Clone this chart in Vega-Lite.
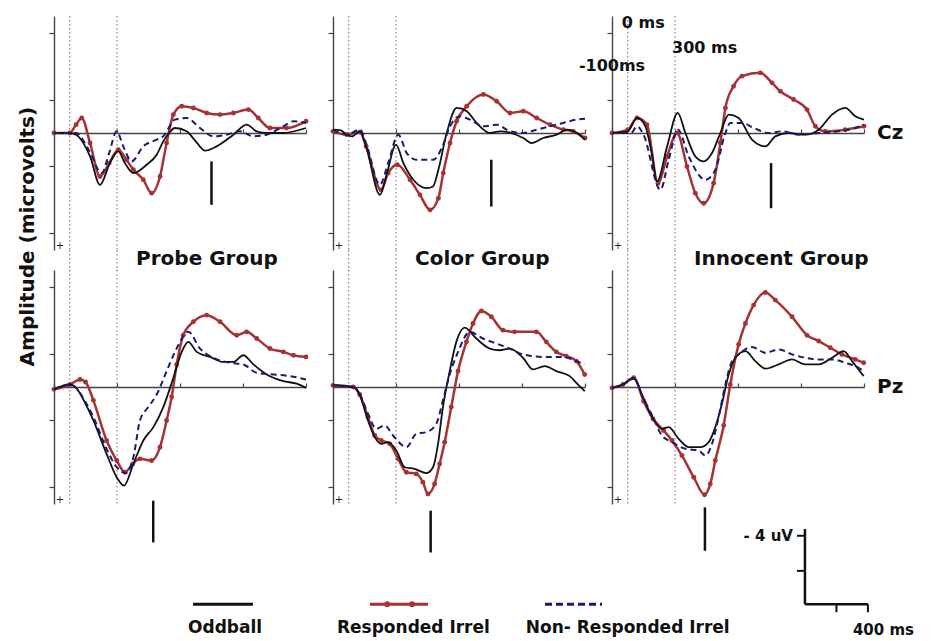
{
"$schema": "https://vega.github.io/schema/vega-lite/v6.json",
"background": "white",
"padding": {"left": 18, "top": 14, "right": 5, "bottom": 2},
"config": {
  "view": {"stroke": null},
  "font": "DejaVu Sans",
  "text": {"font": "DejaVu Sans", "fontWeight": "bold", "color": "#111111"},
  "axis": {"grid": false, "labels": false, "domainColor": "#444444", "tickColor": "#444444", "domainWidth": 1.4, "tickWidth": 1.2}
},
"data": {"values": [
    {"kind":"c","site":"Cz","group":"Probe Group","cond":"Oddball","t":[-100,0,40,129,192,255,308,350,404,488,552,594,630,668,742,800,859,933,1039,1123,1187,1250,1350,1500],"v":[0,0,0.1,1.4,3.1,1.8,1.1,1.8,2.4,1.9,1.3,0.5,0,-0.3,-0.1,0.5,1.06,0.8,0.1,-0.5,-0.1,0,0,-0.3]},
    {"kind":"c","site":"Cz","group":"Probe Group","cond":"Responded Irrel","t":[-100,0,40,76,129,192,250,308,360,404,467,520,573,615,658,711,785,869,954,1039,1134,1197,1271,1377,1500],"v":[0,0,-0.5,-0.9,0.6,2.6,1.8,1.0,1.6,2.2,2.8,3.6,2.6,0.6,-1.1,-1.6,-1.5,-1.2,-1.1,-1.2,-1.4,-0.9,-0.3,-0.3,-0.7]},
    {"kind":"c","site":"Cz","group":"Probe Group","cond":"Non-Responded Irrel","t":[-100,40,120,203,250,298,340,393,467,552,594,668,742,827,912,996,1081,1166,1250,1356,1420,1500],"v":[0,0,1.0,2.4,1.2,-0.1,0.8,1.7,0.8,0.4,0.2,-0.8,-0.9,-0.3,0.2,0.1,-0.1,0.2,0.1,-0.4,-0.7,-0.6]},
    {"kind":"c","site":"Cz","group":"Color Group","cond":"Oddball","t":[-100,-50,-13,20,71,110,198,240,300,347,410,495,535,569,622,685,749,812,897,960,1030,1108,1161,1235,1320,1384,1447,1500],"v":[-0.2,-0.15,0.1,0.2,-0.1,0.8,3.7,2.5,0.7,1.8,2.8,3.3,3.2,2.2,0,-1.5,-1.3,-0.6,0,-0.1,0,0.3,0.6,0.3,0.1,-0.2,0,0.4]},
    {"kind":"c","site":"Cz","group":"Color Group","cond":"Responded Irrel","t":[-100,-13,71,110,205,250,308,389,452,516,569,600,643,685,749,855,939,1024,1108,1193,1278,1362,1426,1500],"v":[-0.1,0.1,-0.05,0.8,3.4,2.4,1.9,2.8,3.7,4.6,3.9,2.4,0.6,-0.7,-1.6,-2.3,-1.9,-1.2,-1.3,-0.9,-0.5,-0.2,-0.1,0.3]},
    {"kind":"c","site":"Cz","group":"Color Group","cond":"Non-Responded Irrel","t":[-100,-13,71,110,198,250,315,368,431,537,590,643,706,770,855,939,1024,1108,1193,1278,1362,1447,1500],"v":[-0.2,0.1,-0.2,0.6,3.1,1.8,0.1,1.2,1.6,1.6,0.9,-0.4,-1.0,-0.8,-0.4,-0.5,-0.1,0,-0.2,-0.4,-0.6,-0.8,-0.85]},
    {"kind":"c","site":"Cz","group":"Innocent Group","cond":"Oddball","t":[-100,0,59,112,150,186,250,317,366,429,482,535,588,641,704,789,874,937,1022,1127,1212,1297,1381,1445,1500],"v":[0,-0.1,-0.9,-0.4,1.1,2.9,0.8,-1.2,0,1.4,1.7,1.2,0,-1.1,-0.9,0.4,0.8,0.2,0,0.1,-0.2,-1.1,-1.5,-1.0,-0.8]},
    {"kind":"c","site":"Cz","group":"Innocent Group","cond":"Responded Irrel","t":[-100,0,59,122,192,250,313,376,429,482,545,588,620,672,725,842,916,969,1053,1138,1191,1254,1381,1500],"v":[0,-0.2,-0.9,-0.5,3.0,1.4,0,2.0,3.6,4.2,3.0,0.6,-1.5,-2.8,-3.4,-3.6,-3.0,-2.5,-2.0,-1.4,-0.4,-0.1,-0.2,-0.4]},
    {"kind":"c","site":"Cz","group":"Innocent Group","cond":"Non-Responded Irrel","t":[-100,20,59,100,207,260,319,387,493,556,620,651,725,800,895,979,1085,1212,1339,1445,1500],"v":[0,0,-0.4,0.1,3.4,1.6,-0.2,1.4,2.8,2.2,0,-0.6,-0.6,-0.3,0,-0.1,0.1,0,-0.1,-0.3,-0.5]},
    {"kind":"c","site":"Pz","group":"Probe Group","cond":"Oddball","t":[-100,2,40,100,150,234,298,344,404,467,531,594,658,711,753,806,890,975,1039,1102,1166,1250,1356,1441,1500],"v":[0.14,-0.15,0.05,1.0,2.0,4.0,5.4,5.9,4.6,3.2,2.4,1.2,-0.55,-2.1,-2.7,-2.1,-1.8,-1.5,-1.5,-1.9,-1.35,-0.75,-0.35,-0.2,0.05]},
    {"kind":"c","site":"Pz","group":"Probe Group","cond":"Responded Irrel","t":[-100,2,65,100,150,234,298,351,400,446,520,573,615,647,679,721,785,869,954,1060,1123,1187,1271,1356,1420,1500],"v":[0.14,-0.15,-0.45,-0.3,0.8,3.2,4.4,5.1,4.6,4.3,4.4,3.6,2.0,0.6,-1.35,-3.1,-3.9,-4.3,-3.9,-3.1,-3.3,-2.9,-2.3,-2.1,-1.9,-1.8]},
    {"kind":"c","site":"Pz","group":"Probe Group","cond":"Non-Responded Irrel","t":[-100,2,40,100,150,234,298,357,404,446,499,552,615,668,753,827,912,1017,1102,1187,1293,1398,1500],"v":[0.14,-0.15,0.05,0.9,1.8,3.7,4.8,5.15,4.2,2.0,1.2,0.45,-0.95,-2.1,-3.3,-2.3,-1.75,-1.45,-1.35,-0.85,-0.75,-0.65,-0.45]},
    {"kind":"c","site":"Pz","group":"Color Group","cond":"Oddball","t":[-100,29,69,122,165,207,249,302,355,418,493,535,567,598,641,683,736,810,895,958,1022,1106,1170,1244,1318,1403,1445,1498],"v":[-0.1,0,0.45,2.0,3.0,3.4,3.3,3.8,4.8,4.9,5.15,4.8,3.4,1.2,-0.95,-2.7,-3.55,-2.9,-2.3,-2.2,-2.3,-1.75,-1.05,-1.25,-0.95,-0.65,-0.25,0.25]},
    {"kind":"c","site":"Pz","group":"Color Group","cond":"Responded Irrel","t":[-100,29,69,122,165,207,260,313,366,429,471,503,545,577,609,651,694,747,789,842,905,979,1053,1191,1254,1318,1381,1445,1498],"v":[-0.1,0,0.45,1.8,2.9,3.2,3.4,4.3,5.1,5.2,5.7,6.4,5.8,4.6,3.3,1.2,-0.95,-2.7,-3.8,-4.55,-4.2,-3.4,-3.3,-3.3,-2.7,-2.1,-1.85,-1.55,-0.75]},
    {"kind":"c","site":"Pz","group":"Color Group","cond":"Non-Responded Irrel","t":[-100,29,69,122,175,228,281,366,429,493,556,598,641,694,768,852,937,1022,1106,1233,1360,1445,1498],"v":[-0.1,0,0.4,1.6,2.5,2.3,2.9,3.6,2.8,2.7,2.2,0.8,-0.75,-2.1,-3.3,-2.9,-2.6,-2.3,-1.95,-1.8,-1.8,-1.55,-1.35]},
    {"kind":"c","site":"Pz","group":"Innocent Group","cond":"Oddball","t":[-100,-30,38,90,154,217,260,323,387,461,514,556,598,641,683,747,810,874,958,1043,1127,1212,1297,1371,1424,1498],"v":[0.05,-0.15,-0.55,0.45,1.8,2.5,2.4,3.1,3.6,3.6,3.3,2.4,1.0,-0.75,-1.75,-2.15,-1.55,-1.1,-1.35,-1.65,-1.35,-1.35,-1.75,-2.15,-1.55,-0.65]},
    {"kind":"c","site":"Pz","group":"Innocent Group","cond":"Responded Irrel","t":[-100,-30,38,101,160,228,281,344,419,488,524,556,609,651,704,747,799,873,937,1043,1138,1212,1286,1360,1445,1498],"v":[0.05,-0.15,-0.55,0.85,1.9,2.6,3.2,4.1,5.4,6.45,5.8,4.4,2.3,-0.15,-2.55,-3.8,-4.9,-5.65,-5.2,-4.2,-3.1,-2.75,-2.35,-1.95,-1.65,-1.45]},
    {"kind":"c","site":"Pz","group":"Innocent Group","cond":"Non-Responded Irrel","t":[-100,-30,38,101,160,217,281,366,450,493,535,577,620,662,704,789,874,958,1043,1127,1212,1297,1381,1466,1498],"v":[0.05,-0.15,-0.5,0.7,1.8,2.9,3.3,3.7,3.8,4.1,3.4,1.8,-0.15,-1.55,-1.95,-2.4,-2.05,-2.25,-1.95,-1.75,-1.65,-1.65,-1.45,-1.15,-0.95]},
    {"kind":"m","site":"Cz","group":"Probe Group","t":900,"v":1.7,"v2":4.3},
    {"kind":"m","site":"Cz","group":"Color Group","t":905,"v":1.6,"v2":4.4},
    {"kind":"m","site":"Cz","group":"Innocent Group","t":910,"v":1.8,"v2":4.5},
    {"kind":"m","site":"Pz","group":"Probe Group","t":530,"v":6.8,"v2":9.3},
    {"kind":"m","site":"Pz","group":"Color Group","t":520,"v":7.4,"v2":9.9},
    {"kind":"m","site":"Pz","group":"Innocent Group","t":490,"v":7.2,"v2":9.8}
]},
"bounds": "flush",
"spacing": {"row": 20, "column": 27},
"resolve": {"axis": {"x": "independent", "y": "independent"}},
"facet": {
  "row": {"field": "site", "type": "nominal", "sort": ["Cz", "Pz"], "title": null, "header": {"labels": false}},
  "column": {"field": "group", "type": "nominal", "sort": ["Probe Group", "Color Group", "Innocent Group"], "title": null, "header": {"labels": false}}
},
"spec": {
  "width": 252,
  "height": 234,
  "layer": [
    {"transform": [{"filter": "datum.kind=='m'"}],
     "mark": {"type": "rule", "strokeDash": [1.5, 2.5], "color": "#666666", "strokeWidth": 1},
     "encoding": {"x": {"datum": 0, "type": "quantitative", "title": null}, "y": {"datum": -7, "type": "quantitative", "title": null}, "y2": {"datum": 7}}},
    {"transform": [{"filter": "datum.kind=='m'"}],
     "mark": {"type": "rule", "strokeDash": [1.5, 2.5], "color": "#666666", "strokeWidth": 1},
     "encoding": {"x": {"datum": 300, "type": "quantitative", "title": null}, "y": {"datum": -7, "type": "quantitative", "title": null}, "y2": {"datum": 7}}},
    {"transform": [{"filter": "datum.kind=='m' && datum.site=='Cz'"}],
     "mark": {"type": "rule", "strokeDash": [1.5, 2.5], "color": "#666666", "strokeWidth": 1},
     "encoding": {"x": {"datum": 0, "type": "quantitative", "title": null}, "y": {"datum": 7, "type": "quantitative", "title": null}, "y2": {"datum": 8.25}}},
    {"transform": [{"filter": "datum.kind=='m' && datum.site=='Cz'"}],
     "mark": {"type": "rule", "strokeDash": [1.5, 2.5], "color": "#666666", "strokeWidth": 1},
     "encoding": {"x": {"datum": 300, "type": "quantitative", "title": null}, "y": {"datum": 7, "type": "quantitative", "title": null}, "y2": {"datum": 8.25}}},
    {"transform": [{"filter": "datum.kind=='m'"}],
     "mark": {"type": "rule", "color": "#111111", "strokeWidth": 2.5},
     "encoding": {
       "x": {"field": "t", "type": "quantitative", "title": null, "scale": {"domain": [-100, 1500], "nice": false, "zero": false},
             "axis": {"values": [-100, 100, 300, 500, 700, 900, 1100, 1300, 1500], "tickSize": -4, "offset": -117, "labels": false, "grid": false}},
       "y": {"field": "v", "type": "quantitative", "title": null, "scale": {"domain": [-7, 7], "reverse": true, "nice": false, "zero": false},
             "axis": {"values": [-6, -4, -2, 0, 2, 4, 6], "tickSize": 5, "labels": false, "grid": false}},
       "y2": {"field": "v2"}}},
    {"transform": [{"filter": "datum.kind=='c' && datum.cond=='Responded Irrel'"}, {"flatten": ["t", "v"]}],
     "mark": {"type": "line", "interpolate": "monotone", "color": "#a53333", "strokeWidth": 2.5},
     "encoding": {"x": {"field": "t", "type": "quantitative", "title": null}, "y": {"field": "v", "type": "quantitative", "title": null}}},
    {"transform": [{"filter": "datum.kind=='c' && datum.cond=='Responded Irrel'"}, {"flatten": ["t", "v"]}],
     "mark": {"type": "circle", "color": "#a53333", "size": 24, "opacity": 1},
     "encoding": {"x": {"field": "t", "type": "quantitative", "title": null}, "y": {"field": "v", "type": "quantitative", "title": null}}},
    {"transform": [{"filter": "datum.kind=='c' && datum.cond=='Oddball'"}, {"flatten": ["t", "v"]}],
     "mark": {"type": "line", "interpolate": "monotone", "color": "#111111", "strokeWidth": 1.8},
     "encoding": {"x": {"field": "t", "type": "quantitative", "title": null}, "y": {"field": "v", "type": "quantitative", "title": null}}},
    {"transform": [{"filter": "datum.kind=='c' && datum.cond=='Non-Responded Irrel'"}, {"flatten": ["t", "v"]}],
     "mark": {"type": "line", "interpolate": "monotone", "color": "#1b1b70", "strokeWidth": 2, "strokeDash": [6, 4]},
     "encoding": {"x": {"field": "t", "type": "quantitative", "title": null}, "y": {"field": "v", "type": "quantitative", "title": null}}},
    {"transform": [{"filter": "datum.kind=='m' && datum.site=='Pz'"}],
     "mark": {"type": "text", "align": "left", "baseline": "middle", "fontSize": 20},
     "encoding": {"x": {"datum": 421, "type": "quantitative", "title": null}, "y": {"datum": -7.65, "type": "quantitative", "title": null}, "text": {"field": "group"}}},
    {"transform": [{"filter": "datum.kind=='m' && datum.group=='Innocent Group'"}],
     "mark": {"type": "text", "align": "left", "baseline": "middle", "fontSize": 20, "dx": 13},
     "encoding": {"x": {"datum": 1500, "type": "quantitative", "title": null}, "y": {"datum": 0, "type": "quantitative", "title": null}, "text": {"field": "site"}}},
    {"transform": [{"filter": "datum.kind=='m'"}],
     "mark": {"type": "text", "align": "center", "baseline": "middle", "fontSize": 10, "fontWeight": "normal", "color": "#222222"},
     "encoding": {"x": {"datum": -62, "type": "quantitative", "title": null}, "y": {"datum": 6.75, "type": "quantitative", "title": null}, "text": {"value": "+"}}},
    {"transform": [{"filter": "datum.kind=='m' && datum.group=='Probe Group' && datum.site=='Cz'"}],
     "mark": {"type": "text", "align": "center", "baseline": "middle", "fontSize": 20, "angle": 270},
     "encoding": {"x": {"datum": -262, "type": "quantitative", "title": null}, "y": {"datum": 6.2, "type": "quantitative", "title": null}, "text": {"value": "Amplitude (microvolts)"}}},
    {"transform": [{"filter": "datum.kind=='m' && datum.group=='Innocent Group' && datum.site=='Cz'"}],
     "mark": {"type": "text", "align": "center", "baseline": "middle", "fontSize": 16},
     "encoding": {"x": {"datum": -100, "type": "quantitative", "title": null}, "y": {"datum": -4.0, "type": "quantitative", "title": null}, "text": {"value": "-100ms"}}},
    {"transform": [{"filter": "datum.kind=='m' && datum.group=='Innocent Group' && datum.site=='Cz'"}],
     "mark": {"type": "text", "align": "left", "baseline": "middle", "fontSize": 16, "dx": -6},
     "encoding": {"x": {"datum": 0, "type": "quantitative", "title": null}, "y": {"datum": -6.6, "type": "quantitative", "title": null}, "text": {"value": "0 ms"}}},
    {"transform": [{"filter": "datum.kind=='m' && datum.group=='Innocent Group' && datum.site=='Cz'"}],
     "mark": {"type": "text", "align": "left", "baseline": "middle", "fontSize": 16, "dx": -3},
     "encoding": {"x": {"datum": 300, "type": "quantitative", "title": null}, "y": {"datum": -5.1, "type": "quantitative", "title": null}, "text": {"value": "300 ms"}}},
    {"transform": [{"filter": "datum.kind=='m' && datum.group=='Innocent Group' && datum.site=='Pz'"}],
     "mark": {"type": "rule", "color": "#111111", "strokeWidth": 2.5},
     "encoding": {"x": {"datum": 1125, "type": "quantitative", "title": null}, "y": {"datum": 8.5, "type": "quantitative", "title": null}, "y2": {"datum": 13}}},
    {"transform": [{"filter": "datum.kind=='m' && datum.group=='Innocent Group' && datum.site=='Pz'"}],
     "mark": {"type": "rule", "color": "#111111", "strokeWidth": 2.5},
     "encoding": {"x": {"datum": 1125, "type": "quantitative", "title": null}, "x2": {"datum": 1525}, "y": {"datum": 13, "type": "quantitative", "title": null}}},
    {"transform": [{"filter": "datum.kind=='m' && datum.group=='Innocent Group' && datum.site=='Pz'"}],
     "mark": {"type": "rule", "color": "#111111", "strokeWidth": 2, "xOffset": -8},
     "encoding": {"x": {"datum": 1125, "type": "quantitative", "title": null}, "x2": {"datum": 1125}, "y": {"datum": 8.9, "type": "quantitative", "title": null}}},
    {"transform": [{"filter": "datum.kind=='m' && datum.group=='Innocent Group' && datum.site=='Pz'"}],
     "mark": {"type": "rule", "color": "#111111", "strokeWidth": 2, "xOffset": -8},
     "encoding": {"x": {"datum": 1125, "type": "quantitative", "title": null}, "x2": {"datum": 1125}, "y": {"datum": 11, "type": "quantitative", "title": null}}},
    {"transform": [{"filter": "datum.kind=='m' && datum.group=='Innocent Group' && datum.site=='Pz'"}],
     "mark": {"type": "rule", "color": "#111111", "strokeWidth": 2, "y2Offset": 8},
     "encoding": {"x": {"datum": 1325, "type": "quantitative", "title": null}, "y": {"datum": 13, "type": "quantitative", "title": null}, "y2": {"datum": 13}}},
    {"transform": [{"filter": "datum.kind=='m' && datum.group=='Innocent Group' && datum.site=='Pz'"}],
     "mark": {"type": "rule", "color": "#111111", "strokeWidth": 2, "y2Offset": 8},
     "encoding": {"x": {"datum": 1525, "type": "quantitative", "title": null}, "y": {"datum": 13, "type": "quantitative", "title": null}, "y2": {"datum": 13}}},
    {"transform": [{"filter": "datum.kind=='m' && datum.group=='Innocent Group' && datum.site=='Pz'"}],
     "mark": {"type": "text", "align": "right", "baseline": "middle", "fontSize": 15, "dx": -12},
     "encoding": {"x": {"datum": 1125, "type": "quantitative", "title": null}, "y": {"datum": 8.9, "type": "quantitative", "title": null}, "text": {"value": "- 4 uV"}}},
    {"transform": [{"filter": "datum.kind=='m' && datum.group=='Innocent Group' && datum.site=='Pz'"}],
     "mark": {"type": "text", "align": "left", "baseline": "middle", "fontSize": 15, "dx": -15},
     "encoding": {"x": {"datum": 1525, "type": "quantitative", "title": null}, "y": {"datum": 14.55, "type": "quantitative", "title": null}, "text": {"value": "400 ms"}}},
    {"transform": [{"filter": "datum.kind=='m' && datum.group=='Probe Group' && datum.site=='Pz'"}],
     "mark": {"type": "rule", "color": "#111111", "strokeWidth": 3},
     "encoding": {"x": {"datum": 783, "type": "quantitative", "title": null}, "x2": {"datum": 1163}, "y": {"datum": 13.0, "type": "quantitative", "title": null}}},
    {"transform": [{"filter": "datum.kind=='m' && datum.group=='Probe Group' && datum.site=='Pz'"}],
     "mark": {"type": "text", "align": "left", "baseline": "middle", "fontSize": 17},
     "encoding": {"x": {"datum": 751, "type": "quantitative", "title": null}, "y": {"datum": 14.4, "type": "quantitative", "title": null}, "text": {"value": "Oddball"}}},
    {"transform": [{"filter": "datum.kind=='m' && datum.group=='Color Group' && datum.site=='Pz'"}],
     "mark": {"type": "rule", "color": "#a53333", "strokeWidth": 3},
     "encoding": {"x": {"datum": 135, "type": "quantitative", "title": null}, "x2": {"datum": 503}, "y": {"datum": 13.0, "type": "quantitative", "title": null}}},
    {"transform": [{"filter": "datum.kind=='m' && datum.group=='Color Group' && datum.site=='Pz'"}],
     "mark": {"type": "circle", "color": "#a53333", "size": 34, "opacity": 1},
     "encoding": {"x": {"datum": 244, "type": "quantitative", "title": null}, "y": {"datum": 13.0, "type": "quantitative", "title": null}}},
    {"transform": [{"filter": "datum.kind=='m' && datum.group=='Color Group' && datum.site=='Pz'"}],
     "mark": {"type": "circle", "color": "#a53333", "size": 34, "opacity": 1},
     "encoding": {"x": {"datum": 402, "type": "quantitative", "title": null}, "y": {"datum": 13.0, "type": "quantitative", "title": null}}},
    {"transform": [{"filter": "datum.kind=='m' && datum.group=='Color Group' && datum.site=='Pz'"}],
     "mark": {"type": "text", "align": "left", "baseline": "middle", "fontSize": 17},
     "encoding": {"x": {"datum": -75, "type": "quantitative", "title": null}, "y": {"datum": 14.4, "type": "quantitative", "title": null}, "text": {"value": "Responded Irrel"}}},
    {"transform": [{"filter": "datum.kind=='m' && datum.group=='Color Group' && datum.site=='Pz'"}],
     "mark": {"type": "rule", "color": "#1b1b70", "strokeWidth": 3, "strokeDash": [7, 4]},
     "encoding": {"x": {"datum": 1246, "type": "quantitative", "title": null}, "x2": {"datum": 1608}, "y": {"datum": 13.0, "type": "quantitative", "title": null}}},
    {"transform": [{"filter": "datum.kind=='m' && datum.group=='Color Group' && datum.site=='Pz'"}],
     "mark": {"type": "text", "align": "left", "baseline": "middle", "fontSize": 17},
     "encoding": {"x": {"datum": 1124, "type": "quantitative", "title": null}, "y": {"datum": 14.4, "type": "quantitative", "title": null}, "text": {"value": "Non- Responded Irrel"}}}
  ]
}
}
